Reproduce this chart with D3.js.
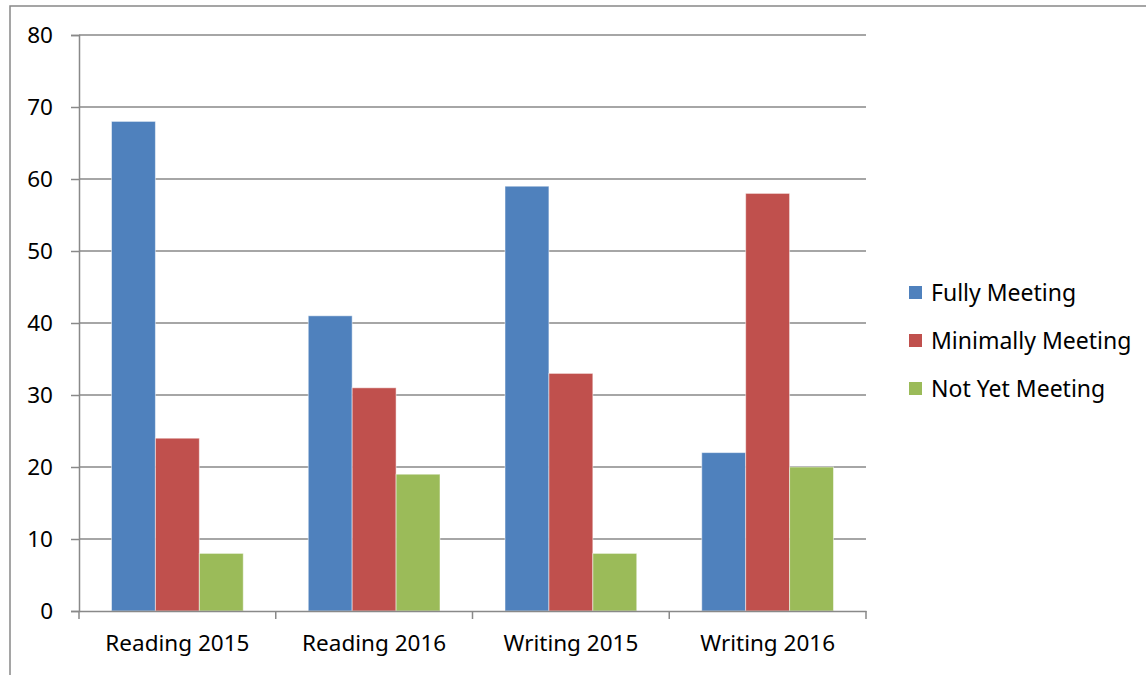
<!DOCTYPE html>
<html>
<head>
<meta charset="utf-8">
<script src="https://cdn.jsdelivr.net/npm/d3@7"></script>
<style>
  body { margin: 0; background: #fff; }
  text { font-family: "Noto Sans", "Open Sans", sans-serif; fill: #000; }
</style>
</head>
<body>
<div id="chart"></div>
<script>
const categories = ['Reading 2015', 'Reading 2016', 'Writing 2015', 'Writing 2016'];
const seriesNames = ['Fully Meeting', 'Minimally Meeting', 'Not Yet Meeting'];
const fullyMeeting = [68, 41, 59, 22];
const minimallyMeeting = [24, 31, 33, 58];
const notYetMeeting = [8, 19, 8, 20];
const yTicks = [0, 10, 20, 30, 40, 50, 60, 70, 80];
const colors = ['#4f81bd', '#c0504d', '#9bbb59'];

const W = 1146, H = 675;
const margin = { left: 79, top: 35, right: 280, bottom: 64 };

const svg = d3.select('#chart').append('svg')
  .attr('width', W)
  .attr('height', H);

// chart frame (partly off the picture)
svg.append('rect')
  .attr('x', 10).attr('y', 6)
  .attr('width', W + 20).attr('height', H + 20)
  .attr('fill', 'none')
  .attr('stroke', '#888').attr('stroke-width', 1.5);

const x = d3.scaleBand()
  .domain(categories)
  .range([margin.left, W - margin.right]);

const inner = d3.scaleBand()
  .domain(seriesNames)
  .range([0, x.bandwidth()])
  .paddingOuter(0.74);

const y = d3.scaleLinear()
  .domain([0, 80])
  .range([H - margin.bottom, margin.top]);

const g = svg.append('g');

// gridlines
g.selectAll('.grid')
  .data(yTicks.filter(d => d > 0))
  .enter()
  .append('line')
  .attr('class', 'grid')
  .attr('x1', margin.left).attr('x2', W - margin.right)
  .attr('y1', d => y(d)).attr('y2', d => y(d))
  .attr('stroke', '#898989').attr('stroke-width', 1.5);

const table = categories.map((c, i) => ({
  cat: c,
  values: [fullyMeeting[i], minimallyMeeting[i], notYetMeeting[i]]
}));

const groups = g.selectAll('.grp')
  .data(table)
  .enter()
  .append('g')
  .attr('transform', d => `translate(${x(d.cat)},0)`);

groups.selectAll('rect')
  .data(d => d.values.map((v, k) => ({ name: seriesNames[k], v, k })))
  .enter()
  .append('rect')
  .attr('x', d => inner(d.name))
  .attr('width', inner.bandwidth())
  .attr('y', d => y(d.v))
  .attr('height', d => y(0) - y(d.v))
  .attr('fill', d => colors[d.k])
  .attr('stroke', 'rgba(255,255,255,0.5)')
  .attr('stroke-width', 1);

// y axis
const yAxis = g.append('g')
  .attr('transform', `translate(${margin.left},0)`)
  .call(d3.axisLeft(y).tickValues(yTicks).tickSize(8).tickPadding(18));
yAxis.select('.domain').attr('stroke', '#898989').attr('stroke-width', 1.5);
yAxis.selectAll('.tick line').attr('stroke', '#898989').attr('stroke-width', 1.5);
yAxis.selectAll('.tick text').style('font-size', '22.5px');

// x axis
const xAxis = g.append('g')
  .attr('transform', `translate(0,${y(0)})`)
  .call(d3.axisBottom(x).tickSize(0).tickPadding(24));
xAxis.select('.domain').attr('stroke', '#898989').attr('stroke-width', 1.5);
xAxis.selectAll('.tick text').style('font-size', '22.5px');

// category boundary ticks
const bounds = categories.map(c => x(c)).concat([x(categories[categories.length - 1]) + x.bandwidth()]);
xAxis.selectAll('.bound')
  .data(bounds)
  .enter()
  .append('line')
  .attr('x1', d => d).attr('x2', d => d)
  .attr('y1', 0).attr('y2', 8)
  .attr('stroke', '#898989').attr('stroke-width', 1.5);

// legend
const legend = svg.append('g').attr('transform', 'translate(909,293)');
const items = legend.selectAll('.item')
  .data(seriesNames)
  .enter()
  .append('g')
  .attr('transform', (d, i) => `translate(0,${i * 48})`);
items.append('rect')
  .attr('x', 0).attr('y', -7)
  .attr('width', 13).attr('height', 13)
  .attr('fill', (d, i) => colors[i]);
items.append('text')
  .attr('x', 22).attr('y', 0)
  .attr('dy', '0.35em')
  .style('font-size', '23px')
  .text(d => d);
</script>
</body>
</html>
